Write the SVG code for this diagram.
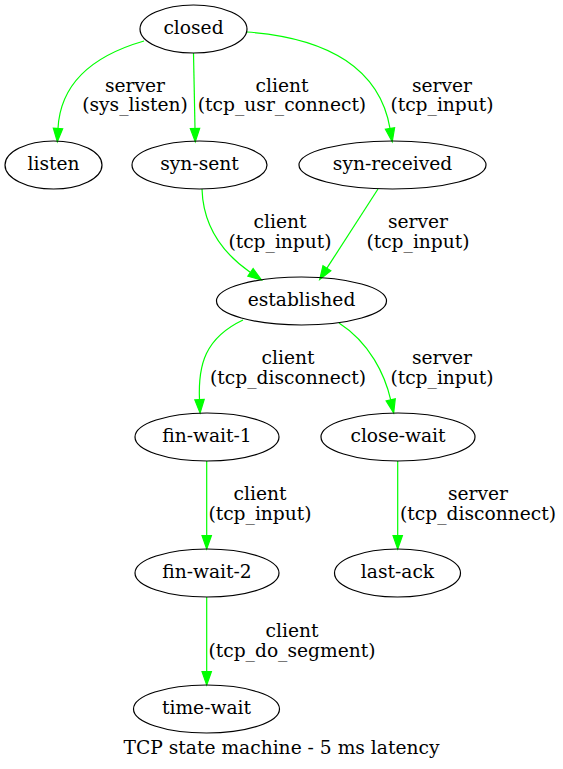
<svg xmlns="http://www.w3.org/2000/svg" width="563" height="769" viewBox="0 0 563 769">
<style>
text{font-family:"DejaVu Serif","Liberation Serif",serif;font-size:18.67px;text-anchor:middle;fill:#000}
.n ellipse{fill:none;stroke:#000;stroke-width:1.2}
.e path{fill:none;stroke:#00ff00;stroke-width:1.2;marker-end:url(#ah)}
</style>
<defs>
<marker id="ah" markerUnits="userSpaceOnUse" markerWidth="16" markerHeight="12" refX="0" refY="0" viewBox="0 -6 16 12" orient="auto" overflow="visible">
<path d="M0,-4.67 L13.3,0 L0,4.67 Z" fill="#00ff00" stroke="#00ff00" stroke-width="1.2"/>
</marker>
</defs>
<rect width="563" height="769" fill="#fff"/>
<g class="e" id="edges">
<path d="M144,41 C85,58 60,90 58,128.5"/>
<path d="M193.5,53 L195,128.5"/>
<path d="M247,32 C330,38 380,70 390,128.5"/>
<path d="M202,189 C203,222 218,250 250.5,272.4"/>
<path d="M378,189 L326.9,268.2"/>
<path d="M243,320 C205,338 198,365 199.5,399.7"/>
<path d="M339,323 C370,343 385,375 390.7,399.9"/>
<path d="M206.7,461 L206.7,535.7"/>
<path d="M397.7,461 L397.7,535.7"/>
<path d="M206.7,597 L206.7,671.7"/>
</g>
<g id="edge-labels">
<text x="135" y="92">server</text><text x="135" y="111">(sys_listen)</text>
<text x="282" y="92">client</text><text x="282" y="111">(tcp_usr_connect)</text>
<text x="442" y="92">server</text><text x="442" y="111">(tcp_input)</text>
<text x="280" y="228">client</text><text x="280" y="247.5">(tcp_input)</text>
<text x="418" y="228">server</text><text x="418" y="247.5">(tcp_input)</text>
<text x="288" y="364">client</text><text x="288" y="383.5">(tcp_disconnect)</text>
<text x="442" y="364">server</text><text x="442" y="383.5">(tcp_input)</text>
<text x="260" y="500">client</text><text x="260" y="519.5">(tcp_input)</text>
<text x="478" y="500">server</text><text x="478" y="519.5">(tcp_disconnect)</text>
<text x="292" y="637">client</text><text x="292" y="656.5">(tcp_do_segment)</text>
</g>
<g class="n" id="closed"><ellipse cx="193.5" cy="29" rx="53.5" ry="24"/><text x="193.5" y="34">closed</text></g>
<g class="n" id="listen"><ellipse cx="53.5" cy="165" rx="48.5" ry="24"/><text x="53.5" y="170">listen</text></g>
<g class="n" id="syn-sent"><ellipse cx="199.5" cy="165" rx="67.5" ry="24"/><text x="199.5" y="170">syn-sent</text></g>
<g class="n" id="syn-received"><ellipse cx="392.5" cy="165" rx="93.5" ry="24"/><text x="392.5" y="170">syn-received</text></g>
<g class="n" id="established"><ellipse cx="301.5" cy="301" rx="85" ry="24"/><text x="301.5" y="306">established</text></g>
<g class="n" id="fin-wait-1"><ellipse cx="207" cy="437" rx="72" ry="24"/><text x="207" y="442">fin-wait-1</text></g>
<g class="n" id="close-wait"><ellipse cx="398" cy="437" rx="77" ry="24"/><text x="398" y="442">close-wait</text></g>
<g class="n" id="fin-wait-2"><ellipse cx="207" cy="573" rx="72" ry="24"/><text x="207" y="578">fin-wait-2</text></g>
<g class="n" id="last-ack"><ellipse cx="397.5" cy="573" rx="63" ry="24"/><text x="397.5" y="578">last-ack</text></g>
<g class="n" id="time-wait"><ellipse cx="206.5" cy="709" rx="73" ry="24"/><text x="206.5" y="714">time-wait</text></g>
<text id="title" x="281.5" y="754">TCP state machine - 5 ms latency</text>
</svg>
